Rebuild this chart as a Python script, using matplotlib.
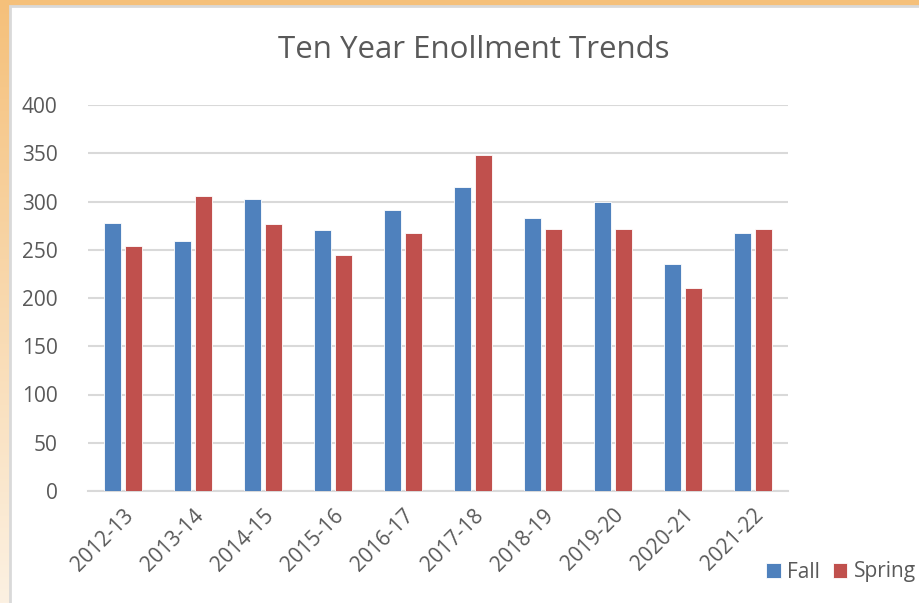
import numpy as np
import matplotlib
matplotlib.use('Agg')
import matplotlib.pyplot as plt
import matplotlib.patches as patches
from matplotlib.colors import LinearSegmentedColormap

plt.rcParams['font.family'] = ['Open Sans', 'DejaVu Sans']

# data
years = ['2012-13', '2013-14', '2014-15', '2015-16', '2016-17',
         '2017-18', '2018-19', '2019-20', '2020-21', '2021-22']
fall = [278, 259, 303, 270, 291, 315, 283, 299, 235, 267]
spring = [254, 306, 277, 245, 267, 348, 271, 271, 210, 272]

W, H = 920, 603
fig = plt.figure(figsize=(W / 100, H / 100), dpi=100)

# orange gradient background behind the white panel
bg = fig.add_axes([0, 0, 1, 1], zorder=-10)
cmap = LinearSegmentedColormap.from_list('bg', ['#f5c07a', '#fcf1e2'])
grad = np.linspace(0, 1, 256).reshape(-1, 1)
bg.imshow(grad, aspect='auto', cmap=cmap, extent=[0, 1, 0, 1], origin='upper')
bg.set_xlim(0, 1)
bg.set_ylim(0, 1)
bg.axis('off')

# white chart panel (runs off the right and bottom edges)
panel = patches.Rectangle((10 / W, -0.05), 1.1, (H - 6) / H + 0.05, transform=fig.transFigure,
                          facecolor='white', edgecolor='#d9d9d9', linewidth=2, zorder=-5)
fig.patches.append(panel)

ax = fig.add_axes([88 / W, (H - 491) / H, 700 / W, 386 / H])
x = np.arange(len(years))
bw = 0.23
ax.bar(x - 0.15, fall, bw, color='#4f81bd', edgecolor='white', linewidth=0.6,
       label='Fall', zorder=3)
ax.bar(x + 0.15, spring, bw, color='#c0504d', edgecolor='white', linewidth=0.6,
       label='Spring', zorder=3)

ax.set_xlim(-0.5, len(years) - 0.5)
ax.set_ylim(0, 400)
ax.set_yticks(range(0, 401, 50))
ax.yaxis.grid(True, color='#d9d9d9', linewidth=1.5, zorder=0)
ax.set_axisbelow(True)
for s in ['top', 'right', 'left']:
    ax.spines[s].set_visible(False)
ax.spines['bottom'].set_color('#d9d9d9')
ax.spines['bottom'].set_linewidth(1.5)
ax.tick_params(axis='both', length=0, labelsize=15, labelcolor='#595959')
ax.tick_params(axis='y', pad=22)
ax.set_xticks(x)
ax.set_xticklabels(years, rotation=45, ha='right', rotation_mode='anchor')
ax.tick_params(axis='x', pad=10)
ax.patch.set_alpha(0)

fig.text(474 / W, 1 - 50 / H, 'Ten Year Enollment Trends', ha='center', va='center',
         fontsize=22.5, color='#595959')

leg = fig.legend(loc='center', bbox_to_anchor=(841 / W, 1 - 572 / H), ncol=2,
                 frameon=False, fontsize=15, handlelength=0.7, handleheight=0.7,
                 handletextpad=0.3, columnspacing=0.6)
for t in leg.get_texts():
    t.set_color('#595959')

fig.savefig('out.png', dpi=100)
